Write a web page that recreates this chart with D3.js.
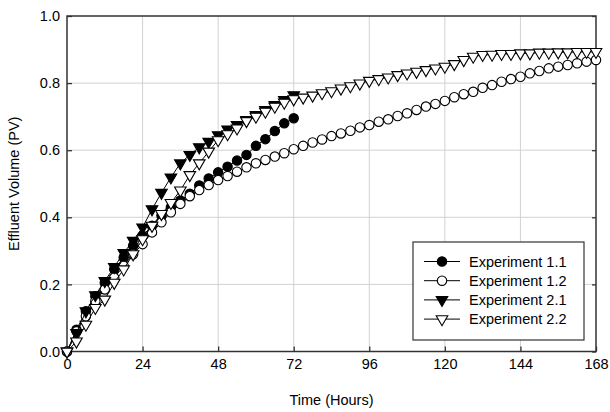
<!DOCTYPE html>
<html><head><meta charset="utf-8">
<script src="https://cdn.jsdelivr.net/npm/d3@7"></script>
<style>
html,body{margin:0;padding:0;background:#fff;}
text{font-family:"Liberation Sans",Arial,sans-serif;}
</style></head>
<body><svg id="c" width="610" height="412"></svg>
<script>
const timesShort = [0,3,6,9,12,15,18,21,24,27,30,33,36,39,42,45,48,51,54,57,60,63,66,69,72];
const timesLong = [0,3,6,9,12,15,18,21,24,27,30,33,36,39,42,45,48,51,54,57,60,63,66,69,72,75,78,81,84,87,90,93,96,99,102,105,108,111,114,117,120,123,126,129,132,135,138,141,144,147,150,153,156,159,162,165,168];
const exp11 = [0,0.065,0.12,0.165,0.205,0.245,0.28,0.315,0.345,0.375,0.405,0.43,0.45,0.47,0.495,0.516,0.534,0.551,0.569,0.586,0.613,0.633,0.657,0.68,0.695];
const exp12 = [0,0.06,0.105,0.15,0.185,0.22,0.255,0.29,0.32,0.355,0.385,0.415,0.44,0.463,0.481,0.496,0.511,0.523,0.536,0.549,0.561,0.571,0.581,0.591,0.603,0.613,0.623,0.632,0.642,0.65,0.658,0.668,0.675,0.685,0.692,0.702,0.71,0.72,0.73,0.738,0.747,0.758,0.767,0.774,0.786,0.794,0.804,0.812,0.819,0.829,0.836,0.844,0.849,0.854,0.859,0.864,0.869];
const exp21 = [0,0.055,0.12,0.168,0.21,0.252,0.294,0.33,0.37,0.424,0.473,0.519,0.561,0.586,0.609,0.625,0.645,0.662,0.675,0.69,0.705,0.72,0.735,0.75,0.764];
const exp22 = [0,0.03,0.08,0.13,0.155,0.205,0.245,0.29,0.335,0.375,0.41,0.443,0.48,0.526,0.561,0.596,0.63,0.648,0.665,0.687,0.7,0.715,0.73,0.742,0.752,0.757,0.763,0.77,0.776,0.784,0.791,0.799,0.807,0.812,0.817,0.824,0.829,0.834,0.839,0.844,0.849,0.857,0.869,0.879,0.884,0.885,0.887,0.887,0.889,0.889,0.891,0.891,0.892,0.892,0.893,0.893,0.893];
const seriesNames = ["Experiment 1.1","Experiment 1.2","Experiment 2.1","Experiment 2.2"];
const xTicks = [0,24,48,72,96,120,144,168];
const yTicks = [0,0.2,0.4,0.6,0.8,1.0];

const series = [
  {name:seriesNames[0], t:timesShort, v:exp11, shape:"circle", fill:"#000"},
  {name:seriesNames[1], t:timesLong, v:exp12, shape:"circle", fill:"#fff"},
  {name:seriesNames[2], t:timesShort, v:exp21, shape:"tri", fill:"#000"},
  {name:seriesNames[3], t:timesLong, v:exp22, shape:"tri", fill:"#fff"}
];

const L=67, R=596, T=16, B=351.5;
const svg = d3.select("#c");
const x = d3.scaleLinear().domain([0,168]).range([L,R]);
const y = d3.scaleLinear().domain([0,1]).range([B,T]);
const FS = "14.5px";

// grid
svg.append("g").selectAll("line").data(xTicks.slice(1,-1)).join("line")
  .attr("x1",d=>x(d)).attr("x2",d=>x(d)).attr("y1",T).attr("y2",B)
  .attr("stroke","#d2d2d2").attr("stroke-width",1);
svg.append("g").selectAll("line").data(yTicks.slice(1,-1)).join("line")
  .attr("x1",L).attr("x2",R).attr("y1",d=>y(d)).attr("y2",d=>y(d))
  .attr("stroke","#d2d2d2").attr("stroke-width",1);

// axes
const ax = svg.append("g").attr("transform",`translate(0,${B})`)
  .call(d3.axisBottom(x).tickValues(xTicks).tickSize(-5).tickPadding(7).tickFormat(d3.format("d")));
const ay = svg.append("g").attr("transform",`translate(${L},0)`)
  .call(d3.axisLeft(y).tickValues(yTicks).tickSize(-5).tickPadding(7).tickFormat(d3.format(".1f")));
const ar = svg.append("g").attr("transform",`translate(${R},0)`)
  .call(d3.axisRight(y).tickValues(yTicks).tickSize(-4).tickFormat(""));
[ax,ay,ar].forEach(g=>{
  g.select(".domain").remove();
  g.selectAll(".tick line").attr("stroke","#333").attr("stroke-width",1.3);
  g.selectAll("text").attr("font-size",FS).attr("fill","#000").style("font-family",'"Liberation Sans",Arial,sans-serif');
});
// frame
svg.append("rect").attr("x",L).attr("y",T).attr("width",R-L).attr("height",B-T)
  .attr("fill","none").attr("stroke","#333").attr("stroke-width",1.5);

// titles
svg.append("text").attr("x",(L+R)/2).attr("y",405).attr("text-anchor","middle")
  .attr("font-size",FS).text("Time (Hours)");
svg.append("text").attr("transform",`translate(19,${(T+B)/2}) rotate(-90)`).attr("text-anchor","middle")
  .attr("font-size",FS).text("Effluent Volume (PV)");

const triPath = "M-5.8,-3.4L5.8,-3.4L0,6.6Z";
function drawMarker(g, s, cx, cy){
  if(s.shape==="circle"){
    g.append("circle").attr("cx",cx).attr("cy",cy).attr("r",4.7)
      .attr("fill",s.fill).attr("stroke","#000").attr("stroke-width",1.1);
  } else {
    g.append("path").attr("d",triPath).attr("transform",`translate(${cx},${cy})`)
      .attr("fill",s.fill).attr("stroke","#000").attr("stroke-width",1.1).attr("stroke-linejoin","miter");
  }
}

const line = d3.line().x(d=>x(d[0])).y(d=>y(d[1]));
series.forEach(s=>{
  const pts = s.t.map((t,i)=>[t,s.v[i]]);
  const g = svg.append("g");
  g.append("path").attr("d",line(pts)).attr("fill","none").attr("stroke","#000").attr("stroke-width",1);
  pts.forEach(p=>drawMarker(g,s,x(p[0]),y(p[1])));
});

// legend
const lg = svg.append("g");
lg.append("rect").attr("x",413).attr("y",242).attr("width",171).attr("height",98)
  .attr("fill","#fff").attr("stroke","#333").attr("stroke-width",1.2);
series.forEach((s,i)=>{
  const yy = 261.5 + i*19.2;
  lg.append("line").attr("x1",424).attr("x2",460).attr("y1",yy).attr("y2",yy).attr("stroke","#000").attr("stroke-width",1);
  drawMarker(lg,s,442,yy);
  lg.append("text").attr("x",469).attr("y",yy).attr("dy","0.36em").attr("font-size",FS).text(s.name);
});
</script></body></html>
